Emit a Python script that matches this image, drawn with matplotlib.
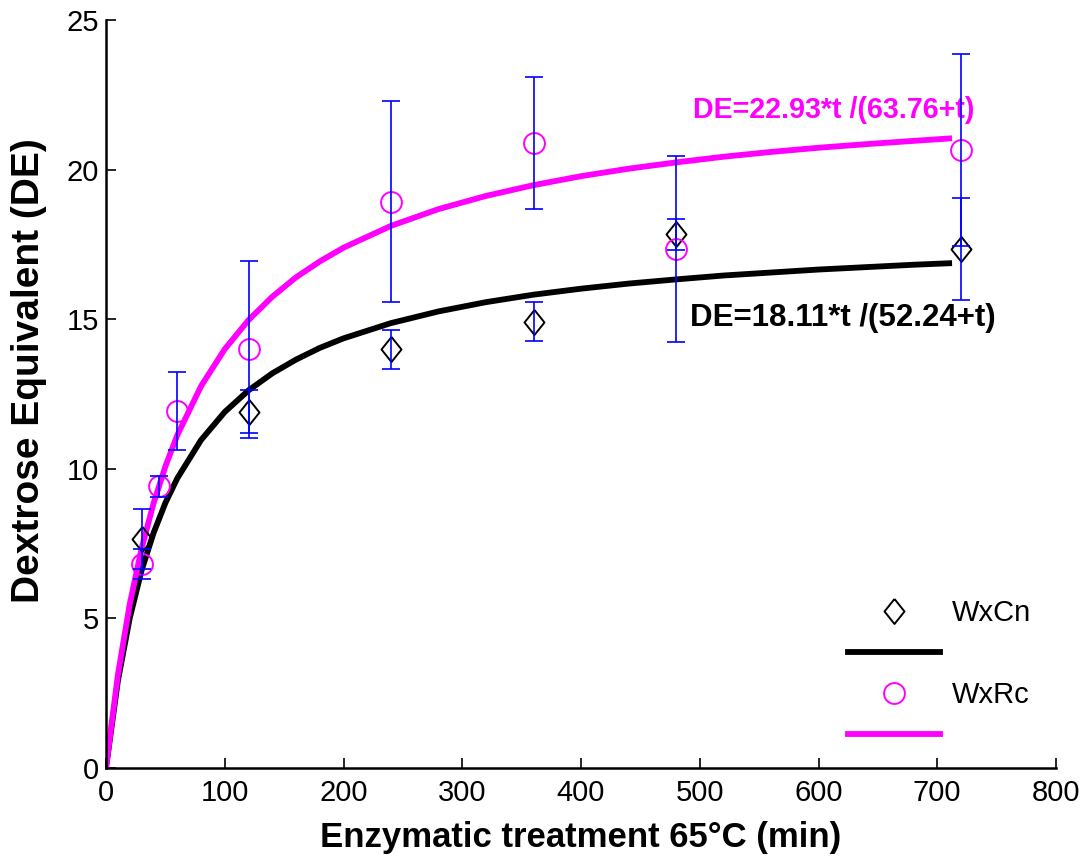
import numpy as np
import matplotlib
matplotlib.use("Agg")
import matplotlib.pyplot as plt
from matplotlib.lines import Line2D

plt.rcParams['font.family'] = ['Liberation Sans', 'DejaVu Sans']

# measured points (mean +- sd)
t_cn = [30, 120, 240, 360, 480, 720]
de_cn = [7.64, 11.91, 13.99, 14.92, 17.84, 17.35]
err_cn = [1.00, 0.72, 0.65, 0.64, 0.52, 1.70]

t_rc = [30, 45, 60, 120, 240, 360, 480, 720]
de_rc = [6.81, 9.42, 11.94, 13.99, 18.93, 20.88, 17.34, 20.65]
err_rc = [0.50, 0.35, 1.31, 2.95, 3.35, 2.20, 3.10, 3.20]

# fitted curves, values
t_fit = [0, 10, 20, 30, 40, 50, 60, 80, 100, 120, 140, 160, 180, 200, 240,
         280, 320, 360, 400, 440, 480, 520, 560, 600, 640, 680, 710]
fit_cn = [0, 2.91, 5.01, 6.61, 7.85, 8.86, 9.68, 10.96, 11.90, 12.62, 13.19,
          13.65, 14.04, 14.36, 14.87, 15.26, 15.57, 15.82, 16.02, 16.19, 16.33,
          16.46, 16.56, 16.66, 16.74, 16.82, 16.87]
fit_rc = [0, 3.11, 5.48, 7.34, 8.84, 10.08, 11.12, 12.76, 14.00, 14.97, 15.75,
          16.40, 16.93, 17.39, 18.12, 18.68, 19.12, 19.48, 19.78, 20.03, 20.24,
          20.43, 20.59, 20.73, 20.85, 20.96, 21.04]

label_cn = "DE=18.11*t /(52.24+t)"
label_rc = "DE=22.93*t /(63.76+t)"

fig = plt.figure(figsize=(10.91, 8.67), dpi=100)
ax = fig.add_axes([106/1091, 1-768/867, 950/1091, 748/867])

diamond = [(0, 1), (0.8, 0), (0, -1), (-0.8, 0), (0, 1)]
mag = '#ff00ff'

ax.plot(t_fit, fit_cn, color='black', lw=4.2, zorder=2)
ax.plot(t_fit, fit_rc, color=mag, lw=4.2, zorder=2)

ax.plot(t_cn, de_cn, ls='none', marker=diamond, ms=18, mfc='none',
        mec='black', mew=1.4, zorder=3)
ax.plot(t_rc, de_rc, ls='none', marker='o', ms=15, mfc='none',
        mec=mag, mew=1.4, zorder=3)

ax.errorbar(t_cn, de_cn, yerr=err_cn, fmt='none', ecolor='#0000ff',
            elinewidth=1.2, capsize=6.5, capthick=1.2, zorder=4)
ax.errorbar(t_rc, de_rc, yerr=err_rc, fmt='none', ecolor='#0000ff',
            elinewidth=1.2, capsize=6.5, capthick=1.2, zorder=4)

ax.text(494, 22.0, label_rc, color=mag, fontsize=20.6, fontweight='bold',
        ha='left', va='center')
ax.text(492, 15.04, label_cn, color='black', fontsize=22.5, fontweight='bold',
        ha='left', va='center')

ax.set_xlim(0, 800)
ax.set_ylim(0, 25)
ax.set_xticks(np.arange(0, 801, 100))
ax.set_yticks(np.arange(0, 26, 5))
ax.tick_params(direction='in', length=7, width=1.2, labelsize=21)
ax.tick_params(axis='y', pad=5)
ax.tick_params(axis='x', pad=8)
for s in ['top', 'right']:
    ax.spines[s].set_visible(False)
for s in ['left', 'bottom']:
    ax.spines[s].set_linewidth(1.8)

ax.set_xlabel("Enzymatic treatment 65°C (min)", fontsize=25, fontweight='bold',
              labelpad=10)
ax.set_ylabel("Dextrose Equivalent (DE)", fontsize=28, fontweight='bold')
ax.yaxis.set_label_coords(-0.062, 0.531)

handles = [
    Line2D([], [], ls='none', marker=diamond, ms=18, mfc='none', mec='black', mew=1.4),
    Line2D([], [], color='black', lw=4.2),
    Line2D([], [], ls='none', marker='o', ms=15, mfc='none', mec=mag, mew=1.4),
    Line2D([], [], color=mag, lw=4.2),
]
ax.legend(handles, ['WxCn', ' ', 'WxRc', ' '], loc='upper left',
          bbox_to_anchor=(848/1091, 1-599/867), bbox_transform=fig.transFigure,
          frameon=False, fontsize=21, handlelength=3.15, handletextpad=0.4,
          labelspacing=0.45, borderpad=0, borderaxespad=0)

fig.savefig("out.png", dpi=100)
